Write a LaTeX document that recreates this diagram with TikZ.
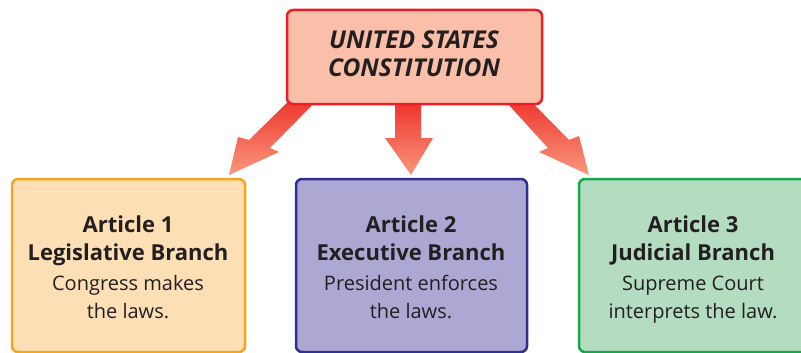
\documentclass[tikz,border=0pt]{standalone}
\usepackage{fontspec}
\setmainfont{Open Sans}
\begin{document}
\begin{tikzpicture}[x=1pt,y=-1pt,
  box/.style={rounded corners=6pt,line width=2.5pt},
  arr/.style={top color=arrtop,bottom color=arrbot,draw=none},
  hd/.style={anchor=base,inner sep=0pt,font=\fontsize{22}{26}\selectfont\bfseries,text=txt},
  bd/.style={anchor=base,inner sep=0pt,font=\fontsize{20}{24}\selectfont,text=txt},
  tt/.style={anchor=base,inner sep=0pt,font=\fontsize{24.5}{28}\selectfont\bfseries\itshape,text=txt}]
\definecolor{arrtop}{HTML}{EE2A24}
\definecolor{arrbot}{HTML}{F8977C}
\definecolor{txt}{HTML}{231F20}
\definecolor{cfill}{HTML}{F9BFA8}\definecolor{cdraw}{HTML}{EE1C25}
\definecolor{lfill}{HTML}{FDDFB5}\definecolor{ldraw}{HTML}{F7A51C}
\definecolor{mfill}{HTML}{ADA8D3}\definecolor{mdraw}{HTML}{2E3092}
\definecolor{rfill}{HTML}{B4DCC1}\definecolor{rdraw}{HTML}{16A84B}
\useasboundingbox (0,0) rectangle (801,353);
% arrows
\shade[arr] (300,90) -- (249,140) -- (238,137) -- (229,175) -- (279,152) -- (270,148) -- (325,92) -- cycle;
\shade[arr] (395,95) -- (395,138) -- (385,138) -- (411,175) -- (433,138) -- (421,138) -- (421,95) -- cycle;
\shade[arr] (497,92) -- (548,148) -- (539,152) -- (589,175) -- (579,136) -- (569,140) -- (520,90) -- cycle;
% boxes
\draw[box,fill=cfill,draw=cdraw] (287,10) rectangle (542,104);
\draw[box,fill=lfill,draw=ldraw] (12,179) rectangle (245,352);
\draw[box,fill=mfill,draw=mdraw] (296,179) rectangle (527,352);
\draw[box,fill=rfill,draw=rdraw] (579,179) rectangle (808,352);
% title
\node[tt] (t1) at (414,49) {UNITED STATES};
\node[tt] (t2) at (414,77) {CONSTITUTION};
% left
\node[hd] (l1) at (128,232) {Article 1};
\node[hd] (l2) at (128,260) {Legislative Branch};
\node[bd] (l3) at (128,290) {Congress makes};
\node[bd] (l4) at (128,318) {the laws.};
% middle
\node[hd] (m1) at (411,232) {Article 2};
\node[hd] (m2) at (411,260) {Executive Branch};
\node[bd] (m3) at (411,290) {President enforces};
\node[bd] (m4) at (411,318) {the laws.};
% right
\node[hd] (r1) at (693,232) {Article 3};
\node[hd] (r2) at (693,260) {Judicial Branch};
\node[bd] (r3) at (693,290) {Supreme Court};
\node[bd] (r4) at (693,318) {interprets the law.};
\end{tikzpicture}
\end{document}
